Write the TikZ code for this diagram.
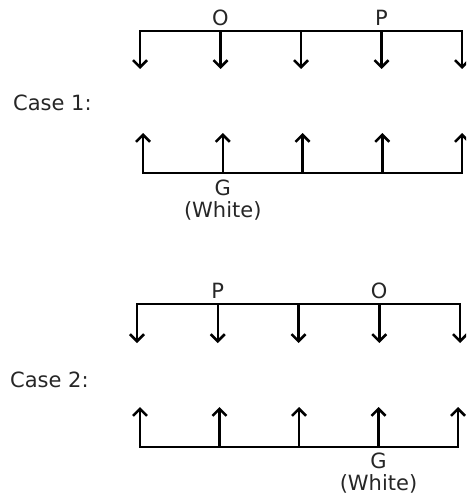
\documentclass[tikz,border=0pt]{standalone}
\usepackage{fontspec}
\setmainfont{DejaVu Sans}
\usetikzlibrary{positioning}
\usetikzlibrary{arrows.meta}

\begin{document}
\begin{tikzpicture}[x=1pt, y=-1pt,
    txt/.style={text=black!85, font=\fontsize{21}{22}\selectfont, inner sep=0pt},
    bar/.style={line width=2.5pt, line cap=rect},
    pin/.style={line width=2.5pt, -{Straight Barb[length=7pt,width=14pt]}}]
    \useasboundingbox (0,0) rectangle (466,500);
    \clip (0,0) rectangle (466,500);

    % Caso 1
    \foreach \i in {0,...,4} {
        \pgfmathsetmacro{\xt}{140+80.5*\i}
        \pgfmathsetmacro{\xb}{143+79.75*\i}
        \coordinate (ta\i) at (\xt,31);
        \coordinate (tae\i) at (\xt,69);
        \coordinate (ba\i) at (\xb,173);
        \coordinate (bae\i) at (\xb,133);
    }
    \draw[bar] (ta0) -- (ta4);
    \draw[bar] (ba0) -- (ba4);
    \foreach \i in {0,...,4} {
        \draw[pin] (ta\i) -- (tae\i);
        \draw[pin] (ba\i) -- (bae\i);
    }
    \node[txt, anchor=west] (case1) at (13,103) {Case 1:};
    \node[txt, above=5pt of ta1] (oa) {O};
    \node[txt, above=5pt of ta3] (pa) {P};
    \node[txt, align=center, below=7pt of ba1] (ga) {G\\(White)};

    % Caso 2
    \foreach \i in {0,...,4} {
        \pgfmathsetmacro{\xt}{137+80.75*\i}
        \pgfmathsetmacro{\xb}{140+79.5*\i}
        \coordinate (tb\i) at (\xt,304);
        \coordinate (tbe\i) at (\xt,343);
        \coordinate (bb\i) at (\xb,447);
        \coordinate (bbe\i) at (\xb,407);
    }
    \draw[bar] (tb0) -- (tb4);
    \draw[bar] (bb0) -- (bb4);
    \foreach \i in {0,...,4} {
        \draw[pin] (tb\i) -- (tbe\i);
        \draw[pin] (bb\i) -- (bbe\i);
    }
    \node[txt, anchor=west] (case2) at (10,380) {Case 2:};
    \node[txt, above=5pt of tb1] (pb) {P};
    \node[txt, above=5pt of tb3] (ob) {O};
    \node[txt, align=center, below=6pt of bb3] (gb) {G\\(White)};
\end{tikzpicture}
\end{document}
